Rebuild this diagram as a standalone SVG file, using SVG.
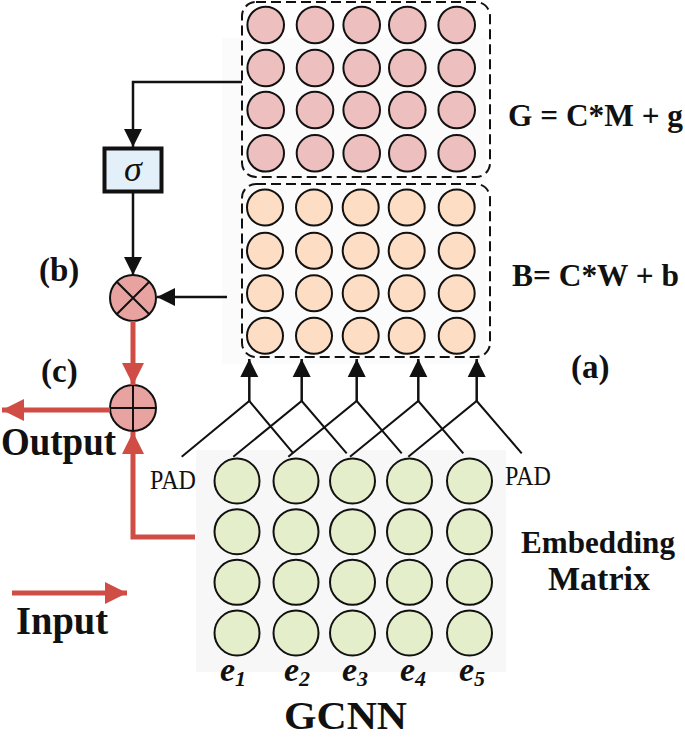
<svg xmlns="http://www.w3.org/2000/svg" width="685" height="738" viewBox="0 0 685 738">
<style>
.pink{fill:#EDBFBE;stroke:#111;stroke-width:2}
.peach{fill:#FDDDC3;stroke:#111;stroke-width:2}
.green{fill:#E5EECA;stroke:#111;stroke-width:2}
.dash{fill:none;stroke:#111;stroke-width:2;stroke-dasharray:10 5}
.blk{fill:none;stroke:#111;stroke-width:2.5}
.thin{fill:none;stroke:#111;stroke-width:2}
.red{fill:none;stroke:#CF4D45;stroke-width:5}
.op{fill:#E8A3A0;stroke:#111;stroke-width:2}
.lbl{font-family:"Liberation Serif","Times New Roman",serif;font-weight:bold;fill:#111}
.pad{font-family:"Liberation Serif","Times New Roman",serif;fill:#111;font-size:28px}
.ev{font-family:"Liberation Serif","Times New Roman",serif;font-weight:bold;font-style:italic;fill:#111}
</style>
<defs>
<marker id="ab" viewBox="0 0 20 20" markerUnits="userSpaceOnUse" markerWidth="18" markerHeight="19" refX="20" refY="10" orient="auto"><path d="M0,0 L20,10 L0,20 z" fill="#111"/></marker>
<marker id="ar" viewBox="0 0 20 20" markerUnits="userSpaceOnUse" markerWidth="22" markerHeight="24" refX="20" refY="10" orient="auto"><path d="M0,0 L20,10 L0,20 z" fill="#CF4D45"/></marker>
</defs>
<rect x="222" y="38" width="264" height="326" fill="#FBFBFB"/>
<rect x="196" y="450" width="310" height="222" fill="#F7F7F7"/>
<g id="G-layer">
<rect class="dash" x="242" y="2" width="248" height="175" rx="14"/>
<g>
<circle class="pink" cx="265.7" cy="25" r="18.3"/><circle class="pink" cx="315" cy="25" r="18.3"/><circle class="pink" cx="361.7" cy="25" r="18.3"/><circle class="pink" cx="407.3" cy="25" r="18.3"/><circle class="pink" cx="456.7" cy="25" r="18.3"/>
<circle class="pink" cx="265.7" cy="68" r="18.3"/><circle class="pink" cx="315" cy="68" r="18.3"/><circle class="pink" cx="361.7" cy="68" r="18.3"/><circle class="pink" cx="407.3" cy="68" r="18.3"/><circle class="pink" cx="456.7" cy="68" r="18.3"/>
<circle class="pink" cx="265.7" cy="110" r="18.3"/><circle class="pink" cx="315" cy="110" r="18.3"/><circle class="pink" cx="361.7" cy="110" r="18.3"/><circle class="pink" cx="407.3" cy="110" r="18.3"/><circle class="pink" cx="456.7" cy="110" r="18.3"/>
<circle class="pink" cx="265.7" cy="153.3" r="18.3"/><circle class="pink" cx="315" cy="153.3" r="18.3"/><circle class="pink" cx="361.7" cy="153.3" r="18.3"/><circle class="pink" cx="407.3" cy="153.3" r="18.3"/><circle class="pink" cx="456.7" cy="153.3" r="18.3"/>
</g>
<text class="lbl" x="508" y="126" font-size="31" textLength="175" lengthAdjust="spacingAndGlyphs">G = C*M + g</text>
</g>
<g id="B-layer">
<rect class="dash" x="242" y="184" width="248" height="173" rx="14"/>
<g>
<circle class="peach" cx="265" cy="207.5" r="18"/><circle class="peach" cx="314" cy="207.5" r="18"/><circle class="peach" cx="360.7" cy="207.5" r="18"/><circle class="peach" cx="406.7" cy="207.5" r="18"/><circle class="peach" cx="456.7" cy="207.5" r="18"/>
<circle class="peach" cx="265" cy="250.8" r="18"/><circle class="peach" cx="314" cy="250.8" r="18"/><circle class="peach" cx="360.7" cy="250.8" r="18"/><circle class="peach" cx="406.7" cy="250.8" r="18"/><circle class="peach" cx="456.7" cy="250.8" r="18"/>
<circle class="peach" cx="265" cy="293.3" r="18"/><circle class="peach" cx="314" cy="293.3" r="18"/><circle class="peach" cx="360.7" cy="293.3" r="18"/><circle class="peach" cx="406.7" cy="293.3" r="18"/><circle class="peach" cx="456.7" cy="293.3" r="18"/>
<circle class="peach" cx="265" cy="335.8" r="18"/><circle class="peach" cx="314" cy="335.8" r="18"/><circle class="peach" cx="360.7" cy="335.8" r="18"/><circle class="peach" cx="406.7" cy="335.8" r="18"/><circle class="peach" cx="456.7" cy="335.8" r="18"/>
</g>
<text class="lbl" x="512" y="286" font-size="31" textLength="167" lengthAdjust="spacingAndGlyphs">B= C*W + b</text>
<text class="lbl" x="571" y="378" font-size="33">(a)</text>
</g>
<g id="embedding">
<g>
<circle class="green" cx="237" cy="481" r="22.5"/><circle class="green" cx="296" cy="481" r="22.5"/><circle class="green" cx="352.5" cy="481" r="22.5"/><circle class="green" cx="409.5" cy="481" r="22.5"/><circle class="green" cx="469.5" cy="481" r="22.5"/>
<circle class="green" cx="237" cy="531.7" r="22.5"/><circle class="green" cx="296" cy="531.7" r="22.5"/><circle class="green" cx="352.5" cy="531.7" r="22.5"/><circle class="green" cx="409.5" cy="531.7" r="22.5"/><circle class="green" cx="469.5" cy="531.7" r="22.5"/>
<circle class="green" cx="237" cy="582.3" r="22.5"/><circle class="green" cx="296" cy="582.3" r="22.5"/><circle class="green" cx="352.5" cy="582.3" r="22.5"/><circle class="green" cx="409.5" cy="582.3" r="22.5"/><circle class="green" cx="469.5" cy="582.3" r="22.5"/>
<circle class="green" cx="237" cy="633" r="22.5"/><circle class="green" cx="296" cy="633" r="22.5"/><circle class="green" cx="352.5" cy="633" r="22.5"/><circle class="green" cx="409.5" cy="633" r="22.5"/><circle class="green" cx="469.5" cy="633" r="22.5"/>
</g>
<text class="ev" x="220" y="681" font-size="34">e<tspan font-size="22" dy="5">1</tspan></text>
<text class="ev" x="284" y="681" font-size="34">e<tspan font-size="22" dy="5">2</tspan></text>
<text class="ev" x="342" y="681" font-size="34">e<tspan font-size="22" dy="5">3</tspan></text>
<text class="ev" x="400" y="681" font-size="34">e<tspan font-size="22" dy="5">4</tspan></text>
<text class="ev" x="459" y="681" font-size="34">e<tspan font-size="22" dy="5">5</tspan></text>
<text class="pad" x="150" y="489" textLength="46" lengthAdjust="spacingAndGlyphs">PAD</text>
<text class="pad" x="505" y="485" textLength="46" lengthAdjust="spacingAndGlyphs">PAD</text>
<text class="lbl" x="521" y="553" font-size="32" textLength="154" lengthAdjust="spacingAndGlyphs">Embedding</text>
<text class="lbl" x="548" y="590" font-size="33" textLength="102" lengthAdjust="spacingAndGlyphs">Matrix</text>
</g>
<g id="sigma">
<rect x="104.5" y="148.5" width="57" height="43" fill="#E3F0F9" stroke="#111" stroke-width="4"/>
<text x="133" y="181" font-family="Liberation Serif, serif" font-style="italic" font-size="36" text-anchor="middle" fill="#111">σ</text>
</g>
<g id="multiply">
<circle class="op" cx="133" cy="298" r="23"/>
<path class="thin" d="M116.7,281.7 L149.3,314.3 M149.3,281.7 L116.7,314.3"/>
<text class="lbl" x="39" y="281" font-size="33">(b)</text>
</g>
<g id="add">
<circle class="op" cx="133" cy="408" r="23"/>
<path class="thin" d="M110,408 H156 M133,385 V431"/>
<text class="lbl" x="41" y="382" font-size="33">(c)</text>
</g>
<g id="labels">
<text class="lbl" x="1" y="455" font-size="41" textLength="115" lengthAdjust="spacingAndGlyphs">Output</text>
<text class="lbl" x="16" y="634" font-size="41" textLength="92" lengthAdjust="spacingAndGlyphs">Input</text>
<text class="lbl" x="284" y="729" font-size="41" textLength="123" lengthAdjust="spacingAndGlyphs">GCNN</text>
</g>
<g id="connectors">
<path class="blk" d="M242,82 H133 V147" marker-end="url(#ab)"/>
<path class="blk" d="M133,193 V275" marker-end="url(#ab)"/>
<path class="blk" d="M227,297 H157" marker-end="url(#ab)"/>
<path class="blk" d="M249.3,401 V359" marker-end="url(#ab)"/>
<path class="blk" d="M301.7,401 V359" marker-end="url(#ab)"/>
<path class="blk" d="M356.7,401 V359" marker-end="url(#ab)"/>
<path class="blk" d="M418.3,401 V359" marker-end="url(#ab)"/>
<path class="blk" d="M476.7,401 V359" marker-end="url(#ab)"/>
<path class="thin" d="M181.7,456.7 L249.3,401 L293.3,453.3 M233.3,456.7 L301.7,401 L346.7,453.3 M288.3,456.7 L356.7,401 L401.7,453.3 M350,456.7 L418.3,401 L463.3,453.3 M408.3,456.7 L476.7,401 L521.7,453.3"/>
<path class="red" d="M133,321 V385" marker-end="url(#ar)"/>
<path class="red" d="M110,410 H2" marker-end="url(#ar)"/>
<path class="red" d="M195,537 H133 V432" marker-end="url(#ar)"/>
<path class="red" d="M12,593 H127" marker-end="url(#ar)"/>
</g>
</svg>
